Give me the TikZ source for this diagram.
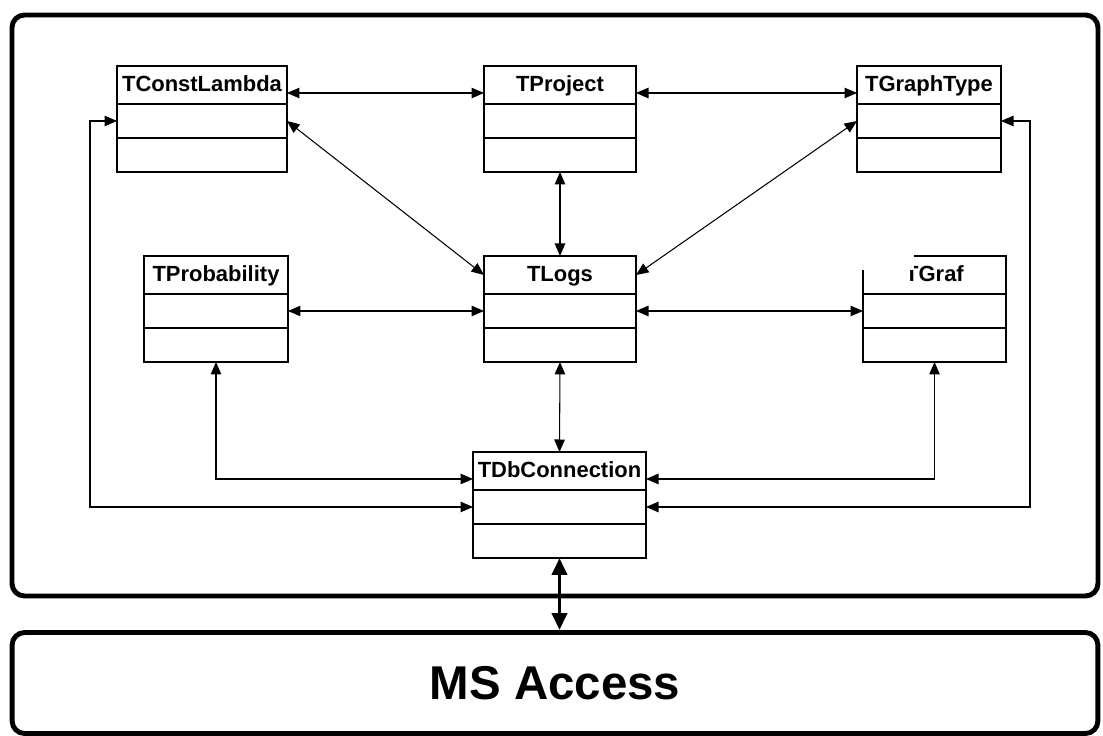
\documentclass[tikz,border=0pt]{standalone}
\usepackage{fontspec}
\setmainfont{Liberation Sans}
\usetikzlibrary{arrows.meta,positioning}

\tikzset{
  part/.style={rectangle, draw, line width=0.9pt, outer sep=0pt, inner sep=0pt,
               minimum height=0.68cm, fill=white},
  hdr/.style={part, minimum height=0.76cm, text height=9pt, text depth=1.5pt,
              font=\fontsize{12.5}{14}\selectfont\bfseries},
  conn/.style={<->, >={Triangle[length=0.25cm,width=0.21cm]}, line width=0.6pt},
  bigconn/.style={<->, >={Triangle[length=0.34cm,width=0.3cm]}, line width=2.2pt},
  frame/.style={rectangle, draw, line width=2.8pt, rounded corners=0.25cm}
}

\begin{document}
\begin{tikzpicture}[x=0.02cm, y=-0.02cm]
  \useasboundingbox (0,0) rectangle (1103,736);

  % outer frame and database
  \draw[frame] (12,15) rectangle (1098,596);
  \node[frame, minimum width=21.72cm, minimum height=2.02cm,
        font=\fontsize{27}{30}\selectfont\bfseries] (access) at (555,683) {MS Access};

  % class boxes: header, attributes, methods
  \foreach \nm/\x/\y/\w/\txt in {lam/117/66/170/TConstLambda, prj/484/66/152/TProject,
      gty/857/66/144/TGraphType, prb/144/256/144/TProbability, logs/484/256/152/TLogs,
      grf/863/256/143/TGraf, db/473/452/173/TDbConnection} {
    \node[hdr, minimum width=\w*0.02cm, anchor=north west] (\nm) at (\x,\y) {\txt};
    \node[part, minimum width=\w*0.02cm, below=0pt of \nm] (\nm-mid) {};
    \node[part, minimum width=\w*0.02cm, below=0pt of \nm-mid] (\nm-bot) {};
  }
  \fill[white] (850,245) rectangle (914,270);

  % top row
  \draw[conn] ([yshift=0.22cm]lam.south east) -- ([yshift=0.22cm]prj.south west);
  \draw[conn] ([yshift=0.22cm]prj.south east) -- ([yshift=0.22cm]gty.south west);
  \draw[conn] (lam-mid.east) -- (logs.west);
  \draw[conn] (gty-mid.west) -- (logs.east);
  \draw[conn] (prj-bot.south) -- (logs.north);

  % middle row
  \draw[conn] (prb-mid.east) -- (logs-mid.west);
  \draw[conn] (logs-mid.east) -- (grf-mid.west);
  \draw[conn] (logs-bot.south) -- (db.north);

  % to TDbConnection
  \draw[conn] (prb-bot.south) |- ([yshift=-0.16cm]db.west);
  \draw[conn] (grf-bot.south) |- ([yshift=-0.16cm]db.east);
  \draw[conn] (lam-mid.west) -- ++(-27,0) |- (db-mid.west);
  \draw[conn] (gty-mid.east) -- ++(29,0) |- (db-mid.east);

  \draw[bigconn] (db-bot.south) -- (db-bot.south |- access.north);
\end{tikzpicture}
\end{document}
